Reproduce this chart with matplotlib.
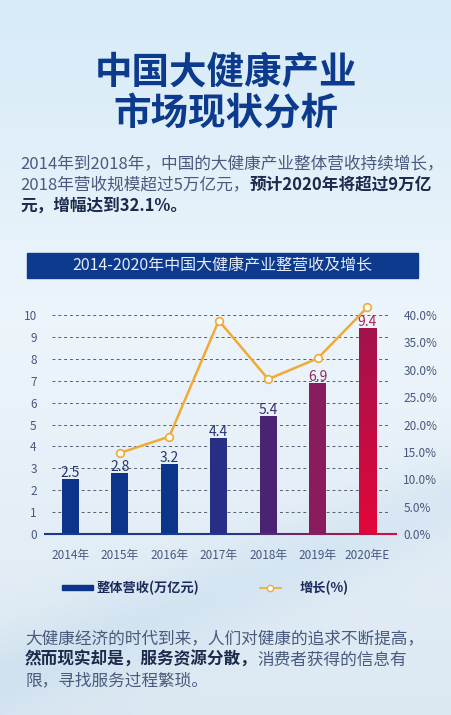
import numpy as np
import matplotlib
matplotlib.use('Agg')
from matplotlib import pyplot as plt
from matplotlib.patches import Rectangle
from matplotlib.colors import LinearSegmentedColormap

plt.rcParams['font.family'] = ['Noto Sans CJK SC', 'DejaVu Sans']

# data
years = ['2014年', '2015年', '2016年', '2017年', '2018年', '2019年', '2020年E']
revenue = [2.5, 2.8, 3.2, 4.4, 5.4, 6.9, 9.4]
growth = [np.nan, 0.148, 0.178, 0.390, 0.283, 0.321, 0.414]
yticks_left = [0, 1, 2, 3, 4, 5, 6, 7, 8, 9, 10]
yticks_right = [0.0, 0.05, 0.10, 0.15, 0.20, 0.25, 0.30, 0.35, 0.40]
bar_colors = ['#0b348a', '#0b348a', '#0b348a', '#282d86', '#4a2472', '#8a1b5d', '#c2104a']
label_colors = ['#26356e', '#26356e', '#26356e', '#26356e', '#3e2b6c', '#8c2a5e', '#b0234f']

W, H = 452, 715
fig = plt.figure(figsize=(W / 100, H / 100), dpi=100)

# background in pixel coordinates
bg = fig.add_axes([0, 0, 1, 1])
bg.set_xlim(0, W)
bg.set_ylim(H, 0)
bg.axis('off')
yy, xx = np.mgrid[0:1:200j, 0:1:120j]
top = np.array([0.84, 0.92, 0.97])
mid = np.array([0.93, 0.96, 0.985])
bot = np.array([0.86, 0.91, 0.95])
t = yy[..., None]
img = np.where(t < 0.45, top + (mid - top) * (t / 0.45), mid + (bot - mid) * ((t - 0.45) / 0.55))
streak = 0.05 * np.exp(-((yy - 0.95 + 0.25 * xx) ** 2) / 0.004)
img = np.clip(img - streak[..., None] * np.array([1.0, 0.6, 0.3]), 0, 1)
bg.imshow(img, extent=[0, W, H, 0], aspect='auto', zorder=0)

# titles
bg.text(W / 2, 72, '中国大健康产业', ha='center', va='center', fontsize=27,
        fontweight='heavy', color='#0c3a8c')
bg.text(W / 2, 113, '市场现状分析', ha='center', va='center', fontsize=27,
        fontweight='heavy', color='#0c3a8c')

normal_c = '#4a5a7c'
bold_c = '#1c2a4c'
fs = 12.0


def seg_line(x, y, parts):
    prev = None
    for txt, bold in parts:
        kw = dict(fontsize=fs, color=bold_c if bold else normal_c,
                  fontweight='bold' if bold else 'light', va='center')
        if prev is None:
            prev = bg.text(x, y, txt, ha='left', **kw)
        else:
            prev = bg.annotate(txt, xy=(1, 0.5), xycoords=prev, ha='left', **kw)


seg_line(20, 164, [('2014年到2018年，中国的大健康产业整体营收持续增长，', False)])
seg_line(20, 185, [('2018年营收规模超过5万亿元，', False), ('预计2020年将超过9万亿', True)])
seg_line(20, 206, [('元，增幅达到32.1%。', True)])

# banner
bg.add_patch(Rectangle((27, 253), 391, 25, color='#0d3a8c', zorder=2))
bg.text(222, 266, '2014-2020年中国大健康产业整营收及增长', ha='center', va='center',
        fontsize=11.5, fontweight='light', color='#e4ecf8', zorder=3)

# chart
ax = fig.add_axes([52 / W, (H - 534) / H, 336 / W, 232 / H])
ax.patch.set_alpha(0)
x = np.arange(len(years))
bars = ax.bar(x, revenue, width=0.35, color=bar_colors, zorder=3)
cmap = LinearSegmentedColormap.from_list('g', ['#a3124e', '#e3073a'])
b = bars[-1]
grad = ax.imshow(np.linspace(0, 1, 100)[:, None], cmap=cmap, aspect='auto',
                 extent=[b.get_x(), b.get_x() + b.get_width(), 0, b.get_height()],
                 origin='upper', zorder=3)
grad.set_clip_path(b)
for xi, v, c in zip(x, revenue, label_colors):
    ax.text(xi, v - 0.05, f'{v}', ha='center', va='bottom', fontsize=10, color=c, zorder=4)

ax.set_xlim(-0.37, 6.42)
ax.set_ylim(0, 10.6)
ax.set_yticks(yticks_left)
for yv in yticks_left[1:]:
    ax.axhline(yv, color='#555e70', lw=0.7, ls=(0, (3, 3)), zorder=1)
for s in ax.spines.values():
    s.set_visible(False)
ax.tick_params(axis='both', length=0, labelsize=8.5, labelcolor='#48587e')
ax.tick_params(axis='y', pad=11)
ax.tick_params(axis='x', pad=11)
ax.set_xticks(x)
ax.set_xticklabels(years)

# baseline with gradient
xs = np.linspace(-0.53, 6.6, 40)
basecmap = LinearSegmentedColormap.from_list('b', ['#1a3a8a', '#1a3a8a', '#d0103e'])
for i in range(len(xs) - 1):
    ax.plot(xs[i:i + 2], [0, 0], color=basecmap(i / (len(xs) - 2)), lw=1.5,
            clip_on=False, solid_capstyle='butt', zorder=5)

ax2 = ax.twinx()
ax2.set_ylim(0, 0.424)
ax2.set_yticks(yticks_right)
ax2.set_yticklabels([f'{v * 100:.1f}%' for v in yticks_right])
for s in ax2.spines.values():
    s.set_visible(False)
ax2.tick_params(axis='y', length=0, labelsize=8.5, labelcolor='#48587e', pad=11)
ax2.plot(x, growth, color='#f0aa35', lw=1.8, marker='o', ms=5.5,
         mfc='white', mec='#f0aa35', mew=1.2, zorder=6)

# legend
bg.add_patch(Rectangle((62, 585), 31, 5, color='#0b348a'))
bg.text(97, 588, '整体营收(万亿元)', ha='left', va='center', fontsize=9.5,
        fontweight='bold', color='#1c2a5a')
bg.plot([260, 281], [588, 588], color='#f0aa35', lw=1.2)
bg.plot([270.5], [588], marker='o', ms=4.5, mfc='white', mec='#f0aa35', mew=1)
bg.text(300, 588, '增长(%)', ha='left', va='center', fontsize=9.5,
        fontweight='bold', color='#1c2a5a')

seg_line(25, 639, [('大健康经济的时代到来，人们对健康的追求不断提高，', False)])
seg_line(25, 660, [('然而现实却是，服务资源分散，', True), ('消费者获得的信息有', False)])
seg_line(25, 681, [('限，寻找服务过程繁琐。', False)])

fig.savefig('out.png', dpi=100)
